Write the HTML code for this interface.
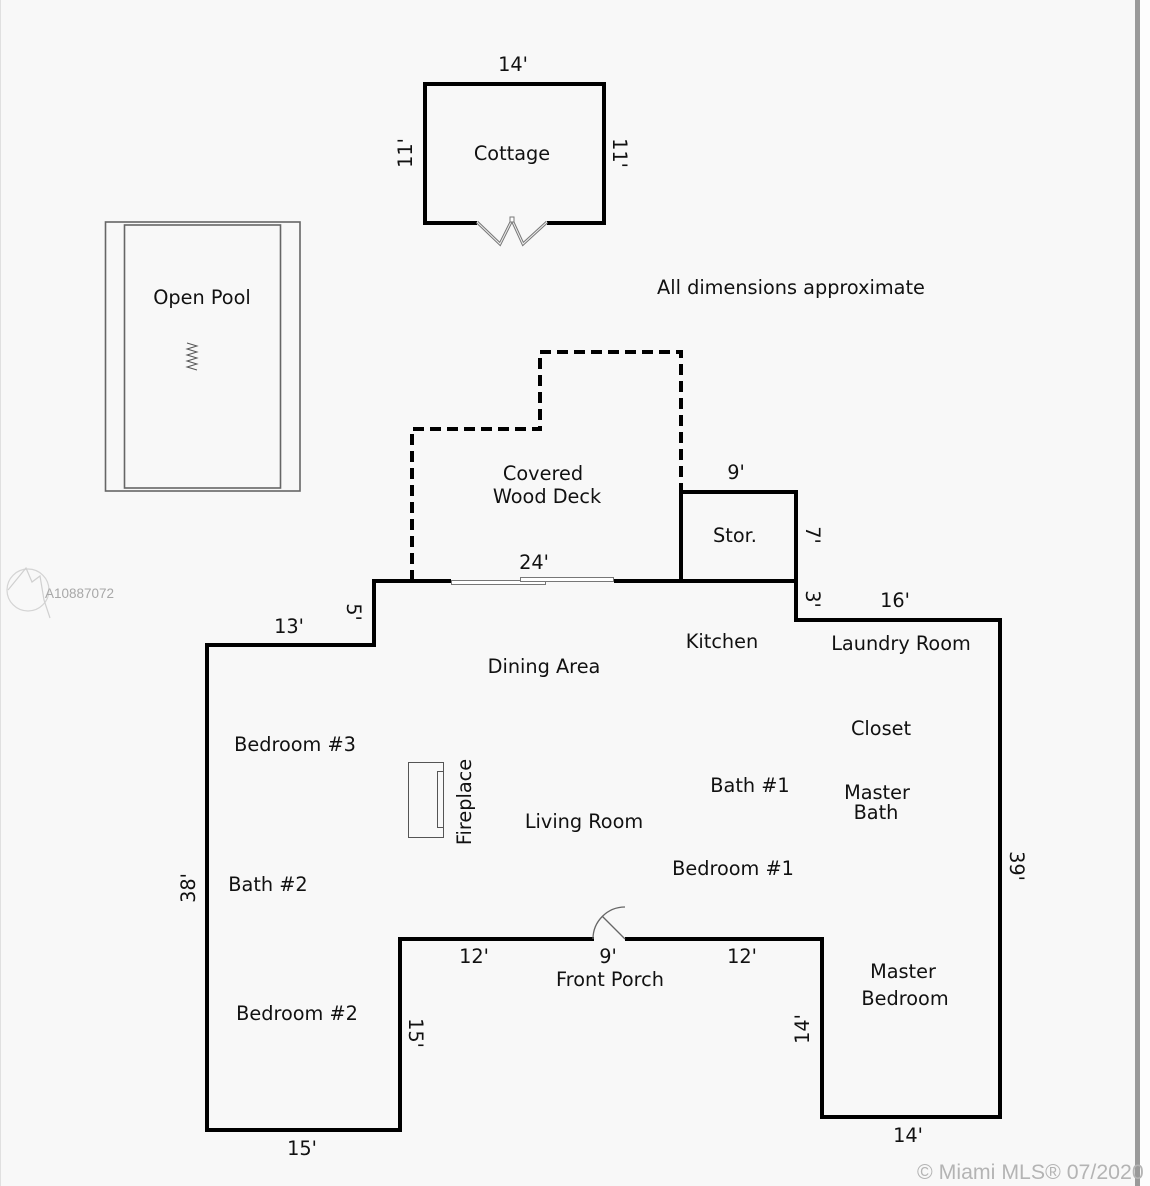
<!DOCTYPE html>
<html><head><meta charset="utf-8"><style>
html,body{margin:0;padding:0;background:#f8f8f8;}
svg{display:block;}
text{font-family:"DejaVu Sans","Liberation Sans",sans-serif;font-size:19.3px;fill:#111;}
</style></head><body>
<svg width="1150" height="1186" viewBox="0 0 1150 1186" xmlns="http://www.w3.org/2000/svg">
<rect x="0" y="0" width="1150" height="1186" fill="#f8f8f8"/>
<rect x="1140" y="0" width="10" height="1186" fill="#fdfdfd"/>
<rect x="1135" y="0" width="5" height="1186" fill="#9a9a9a"/>
<rect x="0" y="0" width="1" height="1186" fill="#e0e0e0"/>

<!-- Cottage -->
<path d="M477,223 L425,223 L425,84 L604,84 L604,223 L547,223" fill="none" stroke="#000" stroke-width="4"/>
<path d="M477,222 L500,244 L512,220 L523,244 L547,222" fill="none" stroke="#777" stroke-width="3"/>
<path d="M477,222 L500,244 L512,220 L523,244 L547,222" fill="none" stroke="#eee" stroke-width="1"/>
<rect x="510" y="217" width="4" height="5" fill="#fff" stroke="#777" stroke-width="1"/>

<!-- Pool -->
<rect x="105.5" y="222" width="194.5" height="269" fill="none" stroke="#666" stroke-width="1.6"/>
<rect x="124.5" y="225" width="156" height="263" fill="none" stroke="#666" stroke-width="1.6"/>
<path d="M187,343 L197,346 L187,349 L197,352 L187,355 L197,358 L187,361 L197,364 L187,367 L197,370" fill="none" stroke="#555" stroke-width="1"/>

<!-- Covered deck dashed -->
<path d="M412,581 L412,429 L540,429 L540,352 L681,352 L681,492" fill="none" stroke="#000" stroke-width="4" stroke-dasharray="11 6"/>

<!-- Main outline -->
<path d="M374,581 L374,645 L207,645 L207,1130 L400,1130 L400,939 L822,939 L822,1117 L1000,1117 L1000,620 L796,620 L796,581 Z" fill="none" stroke="#000" stroke-width="4" stroke-linejoin="miter"/>
<!-- Storage -->
<path d="M681,581 L681,492 L796,492 L796,581" fill="none" stroke="#000" stroke-width="4"/>

<!-- Sliding door -->
<rect x="451" y="577" width="163" height="8" fill="#f8f8f8" stroke="none"/>
<rect x="451.5" y="580.5" width="94" height="4" fill="#fff" stroke="#777" stroke-width="1"/>
<rect x="520.5" y="577.5" width="93" height="4" fill="#fff" stroke="#777" stroke-width="1"/>

<!-- Front door -->
<rect x="594" y="937" width="31" height="4" fill="#f8f8f8"/>
<path d="M593,939 A32,32 0 0 1 625,907" fill="none" stroke="#666" stroke-width="1.3"/>
<line x1="625" y1="939" x2="602" y2="916" stroke="#666" stroke-width="1.3"/>

<!-- Fireplace -->
<rect x="408.5" y="762.5" width="35" height="75" fill="none" stroke="#555" stroke-width="1"/>
<rect x="437.5" y="771.5" width="6" height="56" fill="none" stroke="#555" stroke-width="1"/>

<!-- Labels -->
<text x="513" y="71" text-anchor="middle">14'</text>
<text transform="translate(405,153) rotate(-90)" text-anchor="middle" y="7">11'</text>
<text transform="translate(620,153) rotate(90)" text-anchor="middle" y="7">11'</text>
<text x="512" y="160" text-anchor="middle">Cottage</text>
<text x="202" y="304" text-anchor="middle">Open Pool</text>
<text x="791" y="294" text-anchor="middle">All dimensions approximate</text>
<text x="543" y="480" text-anchor="middle">Covered</text>
<text x="547" y="503" text-anchor="middle">Wood Deck</text>
<text x="736" y="479" text-anchor="middle">9'</text>
<text x="735" y="542" text-anchor="middle">Stor.</text>
<text transform="translate(813,535) rotate(90)" text-anchor="middle" y="7">7'</text>
<text x="534" y="569" text-anchor="middle">24'</text>
<text transform="translate(813,599) rotate(90)" text-anchor="middle" y="7">3'</text>
<text x="895" y="607" text-anchor="middle">16'</text>
<text transform="translate(354,612) rotate(90)" text-anchor="middle" y="7">5'</text>
<text x="289" y="633" text-anchor="middle">13'</text>
<text x="722" y="648" text-anchor="middle">Kitchen</text>
<text x="901" y="650" text-anchor="middle">Laundry Room</text>
<text x="544" y="673" text-anchor="middle">Dining Area</text>
<text x="881" y="735" text-anchor="middle">Closet</text>
<text x="295" y="751" text-anchor="middle">Bedroom #3</text>
<text transform="translate(464,802) rotate(-90)" text-anchor="middle" y="7">Fireplace</text>
<text x="750" y="792" text-anchor="middle">Bath #1</text>
<text x="877" y="799" text-anchor="middle">Master</text>
<text x="876" y="819" text-anchor="middle">Bath</text>
<text x="584" y="828" text-anchor="middle">Living Room</text>
<text x="733" y="875" text-anchor="middle">Bedroom #1</text>
<text transform="translate(1017,866) rotate(90)" text-anchor="middle" y="7">39'</text>
<text transform="translate(188,888) rotate(-90)" text-anchor="middle" y="7">38'</text>
<text x="268" y="891" text-anchor="middle">Bath #2</text>
<text x="474" y="963" text-anchor="middle">12'</text>
<text x="608" y="963" text-anchor="middle">9'</text>
<text x="742" y="963" text-anchor="middle">12'</text>
<text x="610" y="986" text-anchor="middle">Front Porch</text>
<text x="903" y="978" text-anchor="middle">Master</text>
<text x="905" y="1005" text-anchor="middle">Bedroom</text>
<text x="297" y="1020" text-anchor="middle">Bedroom #2</text>
<text transform="translate(416,1033) rotate(90)" text-anchor="middle" y="7">15'</text>
<text transform="translate(802,1029) rotate(-90)" text-anchor="middle" y="7">14'</text>
<text x="908" y="1142" text-anchor="middle">14'</text>
<text x="302" y="1155" text-anchor="middle">15'</text>

<!-- Watermarks -->
<circle cx="28" cy="590" r="21" fill="none" stroke="#d4d4d4" stroke-width="1.2"/>
<path d="M8,590 L26,568 L32,582 L40,576 L44,600 L50,618" fill="none" stroke="#d0d0d0" stroke-width="1.2"/>
<text x="45" y="598" style="font-family:'Liberation Sans',sans-serif;font-size:13.5px;fill:#a8a8a8;">A10887072</text>
<text x="917" y="1179" style="font-family:'Liberation Sans',sans-serif;font-size:21.3px;fill:#b4b4b4;">© Miami MLS® 07/2020</text>
</svg>
</body></html>
